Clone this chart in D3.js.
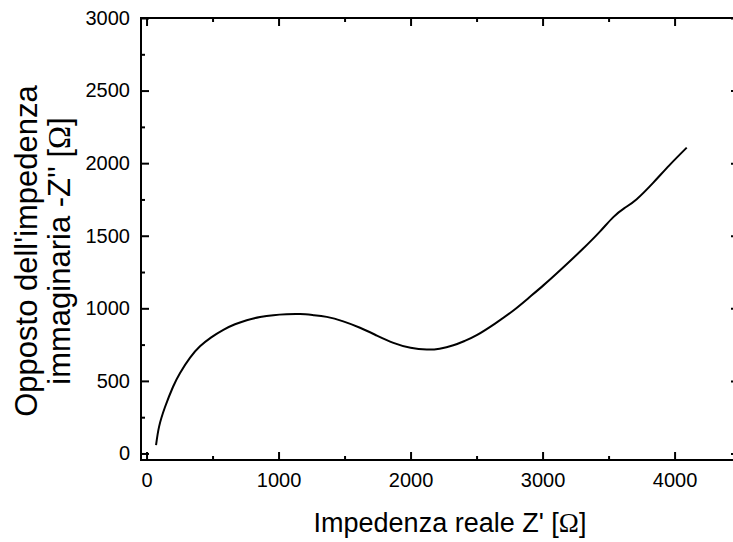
<!DOCTYPE html>
<html>
<head>
<meta charset="utf-8">
<script src="https://cdn.jsdelivr.net/npm/d3@7"></script>
<style>
  html, body { margin: 0; padding: 0; background: #fff; }
  svg { display: block; }
  text { font-family: "Liberation Sans", Arial, sans-serif; fill: #000; }
</style>
</head>
<body>
<svg id="chart" width="733" height="542"></svg>
<script>
// Nyquist plot: real part vs. negative imaginary part of impedance (ohm)
const zReal = [72, 95, 140, 200, 254, 330, 405, 490, 582, 670, 759, 860, 961, 1060, 1163, 1265, 1365, 1490,
               1617, 1745, 1870, 2000, 2123, 2220, 2324, 2410, 2501, 2640, 2779, 2890, 3006, 3133, 3300,
               3436, 3536, 3620, 3713, 3839, 3960, 4092];
const zImag = [58, 185, 320, 458, 555, 660, 738, 800, 852, 890, 918, 940, 953, 959, 960, 953, 941, 910,
               866, 812, 762, 728, 716, 722, 745, 775, 815, 895, 985, 1068, 1158, 1262, 1405,
               1530, 1628, 1690, 1752, 1866, 1985, 2107];

const xTicks = [0, 1000, 2000, 3000, 4000];
const xMinor = [500, 1500, 2500, 3500];
const yTicks = [0, 500, 1000, 1500, 2000, 2500, 3000];
const yMinor = [250, 750, 1250, 1750, 2250, 2750];

const frame = { left: 141, right: 739, top: 18, bottom: 460 };

const x = d3.scaleLinear().domain([-42, 4488]).range([frame.left, frame.right]);
const y = d3.scaleLinear().domain([-45, 3000]).range([frame.bottom, frame.top]);

const svg = d3.select("#chart");

const MAJ = 8, MIN = 4;
const axisStyle = g => {
  g.select(".domain").remove();
  g.selectAll("line").attr("stroke", "#000").attr("stroke-width", 2);
  g.selectAll("text").attr("font-size", 20).attr("fill", "#000");
};

// bottom axis: inward ticks with labels
svg.append("g").attr("transform", `translate(0,${frame.bottom})`)
  .call(d3.axisBottom(x).tickValues(xTicks).tickSizeInner(-MAJ).tickSizeOuter(0).tickPadding(13).tickFormat(d3.format("d")))
  .call(axisStyle)
  .call(g => g.selectAll("text").attr("dy", "0.71em"));
svg.append("g").attr("transform", `translate(0,${frame.bottom})`)
  .call(d3.axisBottom(x).tickValues(xMinor).tickSizeInner(-MIN).tickSizeOuter(0).tickFormat(""))
  .call(axisStyle);

// top axis: mirrored ticks only
svg.append("g").attr("transform", `translate(0,${frame.top})`)
  .call(d3.axisTop(x).tickValues(xTicks).tickSizeInner(-MAJ).tickSizeOuter(0).tickFormat(""))
  .call(axisStyle);
svg.append("g").attr("transform", `translate(0,${frame.top})`)
  .call(d3.axisTop(x).tickValues(xMinor).tickSizeInner(-MIN).tickSizeOuter(0).tickFormat(""))
  .call(axisStyle);

// left axis: inward ticks with labels
svg.append("g").attr("transform", `translate(${frame.left},0)`)
  .call(d3.axisLeft(y).tickValues(yTicks).tickSizeInner(-MAJ).tickSizeOuter(0).tickPadding(11).tickFormat(d3.format("d")))
  .call(axisStyle);
svg.append("g").attr("transform", `translate(${frame.left},0)`)
  .call(d3.axisLeft(y).tickValues(yMinor).tickSizeInner(-MIN).tickSizeOuter(0).tickFormat(""))
  .call(axisStyle);

// right axis: mirrored ticks only
svg.append("g").attr("transform", `translate(${frame.right},0)`)
  .call(d3.axisRight(y).tickValues(yTicks).tickSizeInner(-MAJ).tickSizeOuter(0).tickFormat(""))
  .call(axisStyle);
svg.append("g").attr("transform", `translate(${frame.right},0)`)
  .call(d3.axisRight(y).tickValues(yMinor).tickSizeInner(-MIN).tickSizeOuter(0).tickFormat(""))
  .call(axisStyle);

// frame
svg.append("rect")
  .attr("x", frame.left).attr("y", frame.top)
  .attr("width", frame.right - frame.left).attr("height", frame.bottom - frame.top)
  .attr("fill", "none").attr("stroke", "#000").attr("stroke-width", 2);

// impedance curve
const pts = zReal.map((d, i) => [d, zImag[i]]);
svg.append("path")
  .datum(pts)
  .attr("fill", "none")
  .attr("stroke", "#000")
  .attr("stroke-width", 2)
  .attr("stroke-linejoin", "round")
  .attr("d", d3.line().x(d => x(d[0])).y(d => y(d[1])).curve(d3.curveNatural));

// axis titles
const serif = "'Liberation Serif', 'Times New Roman', serif";
const xTitle = svg.append("text")
  .attr("x", 450).attr("y", 532)
  .attr("text-anchor", "middle")
  .attr("font-size", 27);
xTitle.append("tspan").text("Impedenza reale Z' [");
xTitle.append("tspan").attr("font-family", serif).text("Ω");
xTitle.append("tspan").text("]");

const yTitle = svg.append("text")
  .attr("transform", "translate(0,251) rotate(-90)")
  .attr("text-anchor", "middle")
  .attr("font-size", 31);
yTitle.append("tspan").attr("x", 0).attr("y", 37).text("Opposto dell'impedenza");
const l2 = yTitle.append("tspan").attr("x", 0).attr("y", 70);
l2.append("tspan").text("immaginaria -Z'' [");
l2.append("tspan").attr("font-family", serif).text("Ω");
l2.append("tspan").text("]");
</script>
</body>
</html>
